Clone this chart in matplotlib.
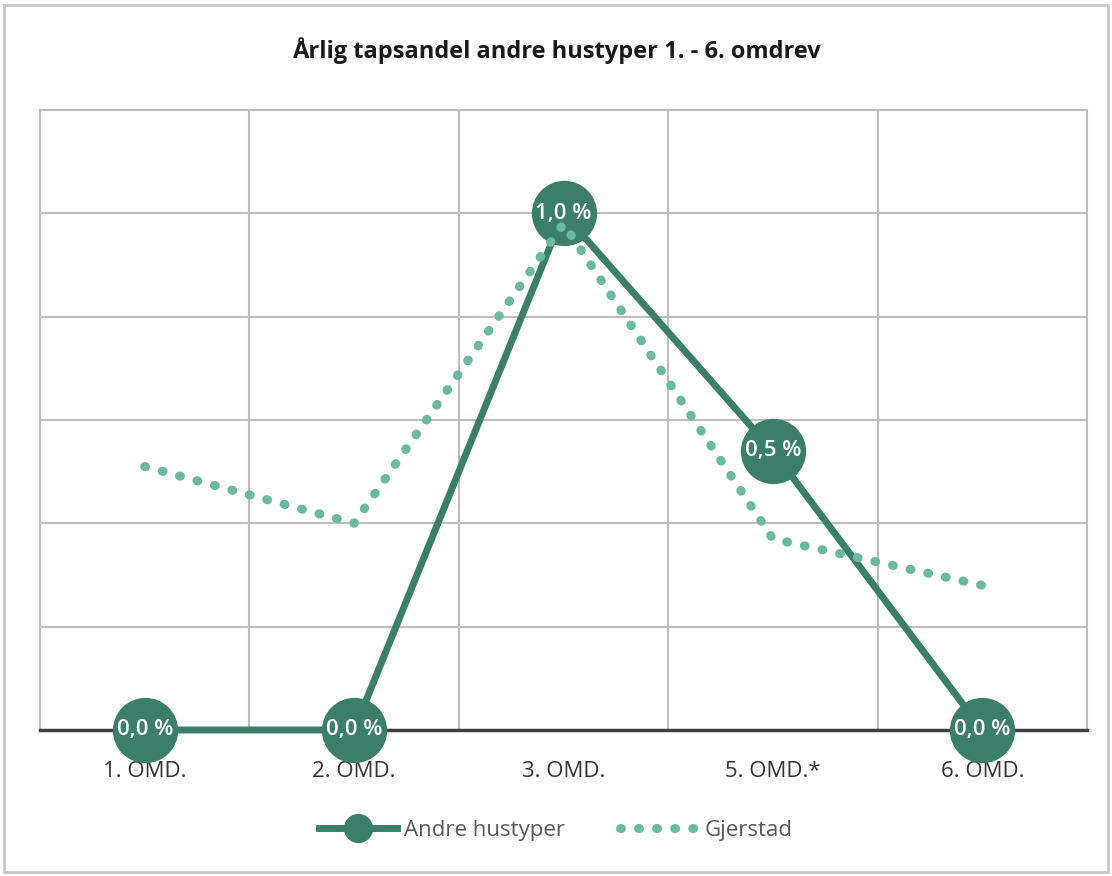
import numpy as np
import matplotlib.pyplot as plt
from matplotlib.lines import Line2D
from matplotlib.patches import Rectangle

# Données
kategorier = ['1. OMD.', '2. OMD.', '3. OMD.', '5. OMD.*', '6. OMD.']
andre_hustyper = [0.0, 0.0, 1.0, 0.54, 0.0]
gjerstad = [0.51, 0.40, 0.98, 0.37, 0.28]

mork = '#3b7f6b'
lys = '#6bb9a0'
prikk = (0, (0.1, 1.9))

plt.rcParams['font.family'] = ['Open Sans', 'DejaVu Sans']

fig = plt.figure(figsize=(11.12, 8.76), dpi=100)
ax = fig.add_axes([0.036, 0.1667, 0.9415, 0.7077])

x = np.arange(len(kategorier))

# Andre hustyper
ax.plot(x, andre_hustyper, color=mork, lw=5, marker='o', markersize=46,
        markerfacecolor=mork, markeredgecolor=mork, zorder=3, clip_on=False)

# Gjerstad
ax.plot(x, gjerstad, color=lys, lw=6.5, linestyle=prikk,
        dash_capstyle='round', zorder=4, clip_on=False)

for xi, v in zip(x, andre_hustyper):
    ax.text(xi, v, f'{v:.1f} %'.replace('.', ','), color='white',
            fontsize=16, fontweight='semibold', ha='center', va='center', zorder=5)

ax.set_xlim(-0.5, 4.5)
ax.set_ylim(0, 1.2)
ax.set_yticks(np.arange(0, 1.21, 0.2))
ax.set_yticklabels([])
ax.tick_params(axis='y', length=0)
ax.set_xticks(x)
ax.set_xticklabels(kategorier, fontsize=16, color='#333333')
ax.tick_params(axis='x', length=0, pad=22)
ax.set_xticks(np.arange(0.5, 4.5, 1), minor=True)
ax.tick_params(axis='x', which='minor', length=0)

ax.grid(True, axis='y', color='#bdbdbd', lw=1.5, zorder=0)
ax.grid(True, axis='x', which='minor', color='#bdbdbd', lw=1.5, zorder=0)
for s in ['left', 'right', 'top']:
    ax.spines[s].set_color('#bdbdbd')
    ax.spines[s].set_linewidth(1.5)
ax.spines['bottom'].set_color('#404040')
ax.spines['bottom'].set_linewidth(2.5)
ax.set_axisbelow(True)

fig.text(0.5, 0.942, 'Årlig tapsandel andre hustyper 1. - 6. omdrev',
         ha='center', va='center', fontsize=17, fontweight='bold', color='#1a1a1a')

handles = [
    Line2D([], [], color=mork, lw=5, marker='o', markersize=20),
    Line2D([], [], color=lys, lw=6.5, linestyle=prikk, dash_capstyle='round'),
]
fig.legend(handles, ['Andre hustyper', 'Gjerstad'], loc='center',
           bbox_to_anchor=(0.5, 0.052), ncol=2, frameon=False, fontsize=16,
           labelcolor='#595959', handlelength=3.5, columnspacing=2.5, handletextpad=0.3)

fig.patches.append(Rectangle((0.004, 0.004), 0.992, 0.99, transform=fig.transFigure,
                             fill=False, edgecolor='#c8c8c8', lw=2))

fig.savefig('out.png', dpi=100)
